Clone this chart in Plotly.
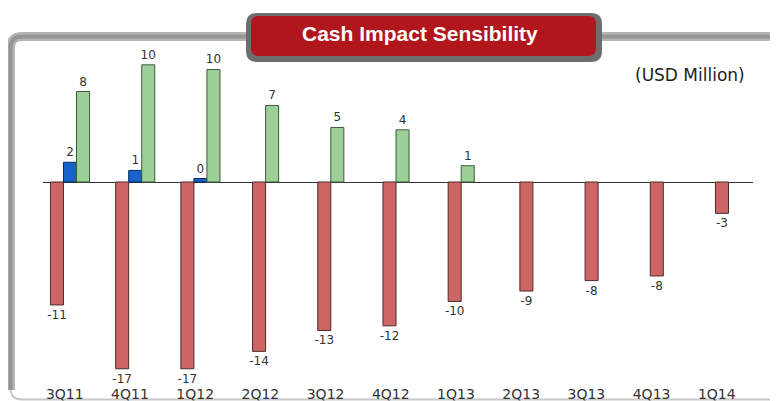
import plotly.graph_objects as go

# ---------------- data ----------------
quarters = ["3Q11", "4Q11", "1Q12", "2Q12", "3Q12", "4Q12",
            "1Q13", "2Q13", "3Q13", "4Q13", "1Q14"]
red_values = [-10.6, -16.1, -16.1, -14.6, -12.8, -12.4, -10.3, -9.4, -8.5, -8.1, -2.7]
red_labels = ["-11", "-17", "-17", "-14", "-13", "-12", "-10", "-9", "-8", "-8", "-3"]
blue_values = [1.7, 1.0, 0.3, None, None, None, None, None, None, None, None]
blue_labels = ["2", "1", "0", "", "", "", "", "", "", "", ""]
green_values = [7.8, 10.1, 9.7, 6.6, 4.7, 4.5, 1.4, None, None, None, None]
green_labels = ["8", "10", "10", "7", "5", "4", "1", "", "", "", ""]

title_text = "Cash Impact Sensibility"
unit_text = "(USD Million)"

# ---------------- geometry (page pixels) ----------------
OFF = 8                                   # default body margin of the html page
PAGE_W, PAGE_H = 778, 401
W, H = PAGE_W - OFF, PAGE_H - OFF
PL, PR, PT, PB = 43, 753, 40, 384          # plot area in page px
ZERO_Y = 182
PX_PER_UNIT = 11.6
CAT_X0, CAT_DX = 70, 65.2                  # page px of first group center, spacing
BAR_W = 0.2

x_lo = (PL - CAT_X0) / CAT_DX
x_hi = (PR - CAT_X0) / CAT_DX
y_hi = (ZERO_Y - PT) / PX_PER_UNIT
y_lo = -(PB - ZERO_Y) / PX_PER_UNIT


def px(x):
    return (x - PL) / (PR - PL)


def py(y):
    return (PB - y) / (PB - PT)


# compute offsets so bars in each group sit side by side and are centered
series = [red_values, blue_values, green_values]
offsets = [[0.0] * len(quarters) for _ in series]
for i in range(len(quarters)):
    present = [k for k, s in enumerate(series) if s[i] is not None]
    start = -len(present) * BAR_W / 2
    for j, k in enumerate(present):
        offsets[k][i] = start + j * BAR_W

xs = list(range(len(quarters)))

fig = go.Figure()
styles = [
    (red_values, red_labels, "#cd6565", "#4d2b2b"),
    (blue_values, blue_labels, "#1763c9", "#0b2c63"),
    (green_values, green_labels, "#9dcf99", "#3c5a3c"),
]
for k, (vals, labs, fill, line) in enumerate(styles):
    fig.add_trace(go.Bar(
        x=xs, y=vals, width=BAR_W, offset=offsets[k],
        text=labs, textposition="outside", cliponaxis=False, constraintext="none",
        textfont=dict(family="DejaVu Sans", size=12, color="#333333"),
        marker=dict(color=fill, line=dict(color=line, width=1)),
        hoverinfo="skip", showlegend=False,
    ))


def rounded_rect(x0, y0, x1, y1, r):
    pts = [
        f"M {px(x0 + r)} {py(y0)}",
        f"L {px(x1 - r)} {py(y0)}",
        f"Q {px(x1)} {py(y0)} {px(x1)} {py(y0 + r)}",
        f"L {px(x1)} {py(y1 - r)}",
        f"Q {px(x1)} {py(y1)} {px(x1 - r)} {py(y1)}",
        f"L {px(x0 + r)} {py(y1)}",
        f"Q {px(x0)} {py(y1)} {px(x0)} {py(y1 - r)}",
        f"L {px(x0)} {py(y0 + r)}",
        f"Q {px(x0)} {py(y0)} {px(x0 + r)} {py(y0)}",
        "Z",
    ]
    return " ".join(pts)


frame_path = (f"M {px(10.5)} {py(390)} L {px(10.5)} {py(48)} "
              f"Q {px(10.5)} {py(36.5)} {px(22)} {py(36.5)} L {px(800)} {py(36.5)}")
bottom_path = (f"M {px(10.5)} {py(388)} Q {px(10.5)} {py(399.5)} {px(22)} {py(399.5)} "
               f"L {px(800)} {py(399.5)}")

shapes = [
    dict(type="path", path=bottom_path, xref="paper", yref="paper",
         line=dict(color="#c8c8c8", width=2), layer="below"),
    dict(type="path", path=frame_path, xref="paper", yref="paper",
         line=dict(color="#b4b4b4", width=9), layer="below"),
    dict(type="path", path=frame_path, xref="paper", yref="paper",
         line=dict(color="#969696", width=4), layer="below"),
    dict(type="path", path=rounded_rect(246, 13, 602, 62, 11), xref="paper", yref="paper",
         fillcolor="#6e6e6e", line=dict(width=0), layer="above"),
    dict(type="path", path=rounded_rect(251, 16, 596, 56, 8), xref="paper", yref="paper",
         fillcolor="#b1161c", line=dict(width=0), layer="above"),
]

annotations = [
    dict(text=f"<b>{title_text}</b>", x=px(420), y=py(34), xref="paper", yref="paper",
         showarrow=False, xanchor="center", yanchor="middle",
         font=dict(family="Liberation Sans", size=21, color="white")),
    dict(text=unit_text, x=px(690), y=py(75), xref="paper", yref="paper",
         showarrow=False, xanchor="center", yanchor="middle",
         font=dict(family="DejaVu Sans", size=17, color="#222222")),
]

fig.update_layout(
    width=W, height=H,
    margin=dict(l=PL - OFF, r=PAGE_W - PR, t=PT - OFF, b=PAGE_H - PB,
                pad=0, autoexpand=False),
    paper_bgcolor="white", plot_bgcolor="white",
    barmode="overlay",
    shapes=shapes, annotations=annotations,
    xaxis=dict(range=[x_lo, x_hi], tickvals=[x - 0.08 for x in xs], ticktext=quarters,
               showgrid=False, zeroline=False, showline=False, ticks="",
               automargin=False,
               tickfont=dict(family="DejaVu Sans", size=14, color="#333333"),
               fixedrange=True),
    yaxis=dict(range=[y_lo, y_hi], showgrid=False, showticklabels=False,
               zeroline=True, zerolinecolor="#333333", zerolinewidth=1,
               automargin=False,
               showline=False, ticks="", fixedrange=True),
)

fig.write_html("out.html")
